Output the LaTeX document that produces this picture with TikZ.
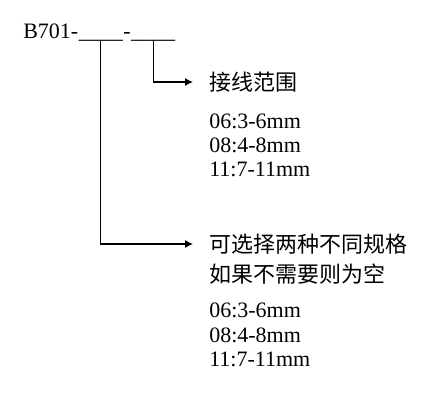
\documentclass[tikz,border=0pt]{standalone}
\usepackage{fontspec}
\setmainfont{Liberation Serif}
\newfontfamily\cjk{Noto Sans CJK SC}
\usetikzlibrary{arrows.meta,positioning}

\begin{document}
\begin{tikzpicture}[
        x=0.75pt, y=-0.75pt,
        >={Latex[length=6pt,width=6pt]},
        % pieces of the part number
        code/.style={anchor=base west, inner sep=0pt, font=\fontsize{16.5}{18}\selectfont},
        % chinese notes
        note/.style={anchor=west, inner sep=0pt, font=\cjk\fontsize{16.5}{18}\selectfont},
        % range values
        val/.style={anchor=base west, inner sep=0pt, font=\fontsize{16.5}{18}\selectfont},
        link/.style={->, line width=0.8pt, shorten >=12pt}
    ]
    \useasboundingbox (0,0) rectangle (444,412);

    % 1. part number with two blanks
    \node[code] (pn) at (23,38) {B701-};
    \node[code] (gapA) at (pn.base east) {\_\_\_\_};
    \node[code] (dash) at (gapA.base east) {-};
    \node[code] (gapB) at (dash.base east) {\_\_\_\_};

    % 2. wire range
    \node[note] (wire) at (209,82) {接线范围};
    \foreach \v [count=\i] in {06:3-6mm,08:4-8mm,11:7-11mm}
        \node[val] (wire\i) at (209,104+24*\i) {\v};

    % 3. optional spec
    \node[note] (optA) at (209,244) {可选择两种不同规格};
    \node[note] (optB) at (209,274) {如果不需要则为空};
    \foreach \v [count=\i] in {06:3-6mm,08:4-8mm,11:7-11mm}
        \node[val] (opt\i) at (209,293.5+24.3*\i) {\v};

    % 4. connectors
    \draw[link] (gapB.south) |- (wire.west);
    \draw[link] (gapA.south) |- (optA.west);

\end{tikzpicture}
\end{document}
